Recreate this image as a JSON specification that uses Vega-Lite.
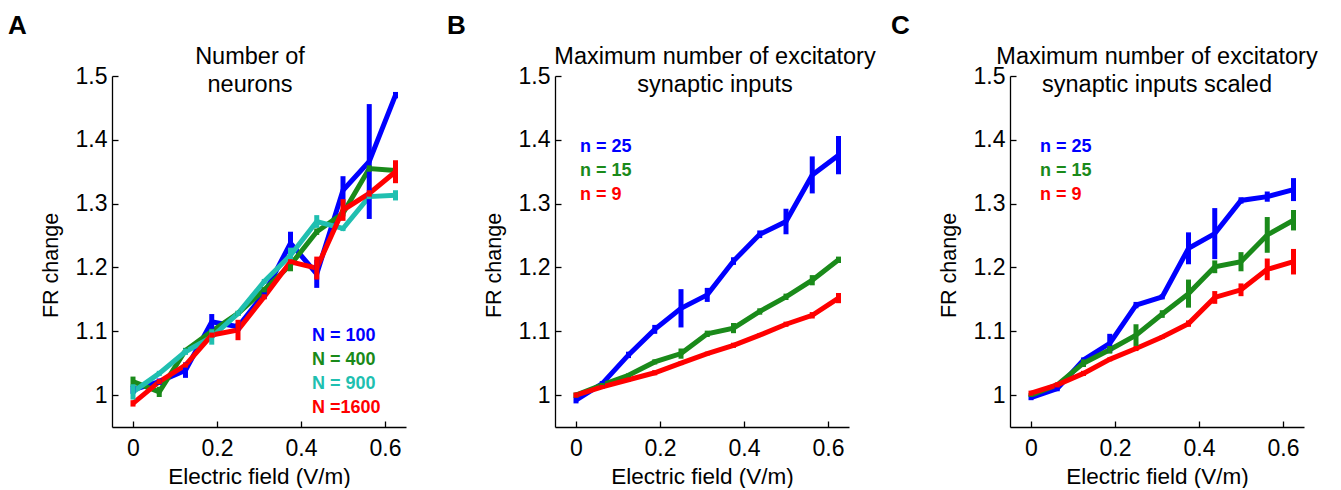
{
  "$schema": "https://vega.github.io/schema/vega-lite/v6.json",
  "background": "white",
  "padding": {"left": 8, "top": 12, "right": 5, "bottom": 0},
  "datasets": {
    "A": [
      {"x": 0, "y": 1.008, "err": 0.006, "s": "N = 100"},
      {"x": 0.0625, "y": 1.021, "err": 0.005, "s": "N = 100"},
      {"x": 0.125, "y": 1.039, "err": 0.012, "s": "N = 100"},
      {"x": 0.1875, "y": 1.115, "err": 0.012, "s": "N = 100"},
      {"x": 0.25, "y": 1.107, "err": 0.006, "s": "N = 100"},
      {"x": 0.3125, "y": 1.159, "err": 0.008, "s": "N = 100"},
      {"x": 0.375, "y": 1.238, "err": 0.018, "s": "N = 100"},
      {"x": 0.4375, "y": 1.19, "err": 0.022, "s": "N = 100"},
      {"x": 0.5, "y": 1.321, "err": 0.022, "s": "N = 100"},
      {"x": 0.5625, "y": 1.366, "err": 0.09, "s": "N = 100"},
      {"x": 0.625, "y": 1.47, "err": 0.005, "s": "N = 100"},
      {"x": 0, "y": 1.021, "err": 0.008, "s": "N = 400"},
      {"x": 0.0625, "y": 1.005, "err": 0.008, "s": "N = 400"},
      {"x": 0.125, "y": 1.07, "err": 0.004, "s": "N = 400"},
      {"x": 0.1875, "y": 1.1, "err": 0.004, "s": "N = 400"},
      {"x": 0.25, "y": 1.128, "err": 0.004, "s": "N = 400"},
      {"x": 0.3125, "y": 1.165, "err": 0.004, "s": "N = 400"},
      {"x": 0.375, "y": 1.204, "err": 0.01, "s": "N = 400"},
      {"x": 0.4375, "y": 1.256, "err": 0.005, "s": "N = 400"},
      {"x": 0.5, "y": 1.285, "err": 0.005, "s": "N = 400"},
      {"x": 0.5625, "y": 1.355, "err": 0.005, "s": "N = 400"},
      {"x": 0.625, "y": 1.352, "err": 0.005, "s": "N = 400"},
      {"x": 0, "y": 1.005, "err": 0.012, "s": "N = 900"},
      {"x": 0.0625, "y": 1.034, "err": 0.004, "s": "N = 900"},
      {"x": 0.125, "y": 1.068, "err": 0.005, "s": "N = 900"},
      {"x": 0.1875, "y": 1.091, "err": 0.012, "s": "N = 900"},
      {"x": 0.25, "y": 1.128, "err": 0.004, "s": "N = 900"},
      {"x": 0.3125, "y": 1.178, "err": 0.004, "s": "N = 900"},
      {"x": 0.375, "y": 1.219, "err": 0.012, "s": "N = 900"},
      {"x": 0.4375, "y": 1.272, "err": 0.01, "s": "N = 900"},
      {"x": 0.5, "y": 1.261, "err": 0.004, "s": "N = 900"},
      {"x": 0.5625, "y": 1.311, "err": 0.004, "s": "N = 900"},
      {"x": 0.625, "y": 1.313, "err": 0.008, "s": "N = 900"},
      {"x": 0, "y": 0.987, "err": 0.005, "s": "N =1600"},
      {"x": 0.0625, "y": 1.021, "err": 0.004, "s": "N =1600"},
      {"x": 0.125, "y": 1.047, "err": 0.004, "s": "N =1600"},
      {"x": 0.1875, "y": 1.094, "err": 0.004, "s": "N =1600"},
      {"x": 0.25, "y": 1.102, "err": 0.016, "s": "N =1600"},
      {"x": 0.3125, "y": 1.154, "err": 0.004, "s": "N =1600"},
      {"x": 0.375, "y": 1.209, "err": 0.004, "s": "N =1600"},
      {"x": 0.4375, "y": 1.199, "err": 0.018, "s": "N =1600"},
      {"x": 0.5, "y": 1.29, "err": 0.017, "s": "N =1600"},
      {"x": 0.5625, "y": 1.316, "err": 0.005, "s": "N =1600"},
      {"x": 0.625, "y": 1.35, "err": 0.018, "s": "N =1600"}
    ],
    "B": [
      {"x": 0, "y": 0.992, "err": 0.005, "s": "n = 25"},
      {"x": 0.0625, "y": 1.018, "err": 0.004, "s": "n = 25"},
      {"x": 0.125, "y": 1.063, "err": 0.005, "s": "n = 25"},
      {"x": 0.1875, "y": 1.103, "err": 0.007, "s": "n = 25"},
      {"x": 0.25, "y": 1.136, "err": 0.03, "s": "n = 25"},
      {"x": 0.3125, "y": 1.157, "err": 0.011, "s": "n = 25"},
      {"x": 0.375, "y": 1.21, "err": 0.006, "s": "n = 25"},
      {"x": 0.4375, "y": 1.252, "err": 0.006, "s": "n = 25"},
      {"x": 0.5, "y": 1.272, "err": 0.02, "s": "n = 25"},
      {"x": 0.5625, "y": 1.345, "err": 0.029, "s": "n = 25"},
      {"x": 0.625, "y": 1.376, "err": 0.03, "s": "n = 25"},
      {"x": 0, "y": 1.0, "err": 0.004, "s": "n = 15"},
      {"x": 0.0625, "y": 1.016, "err": 0.003, "s": "n = 15"},
      {"x": 0.125, "y": 1.031, "err": 0.003, "s": "n = 15"},
      {"x": 0.1875, "y": 1.052, "err": 0.004, "s": "n = 15"},
      {"x": 0.25, "y": 1.065, "err": 0.008, "s": "n = 15"},
      {"x": 0.3125, "y": 1.096, "err": 0.005, "s": "n = 15"},
      {"x": 0.375, "y": 1.105, "err": 0.008, "s": "n = 15"},
      {"x": 0.4375, "y": 1.131, "err": 0.005, "s": "n = 15"},
      {"x": 0.5, "y": 1.154, "err": 0.005, "s": "n = 15"},
      {"x": 0.5625, "y": 1.18, "err": 0.008, "s": "n = 15"},
      {"x": 0.625, "y": 1.212, "err": 0.005, "s": "n = 15"},
      {"x": 0, "y": 1.0, "err": 0.004, "s": "n = 9"},
      {"x": 0.0625, "y": 1.013, "err": 0.003, "s": "n = 9"},
      {"x": 0.125, "y": 1.024, "err": 0.003, "s": "n = 9"},
      {"x": 0.1875, "y": 1.035, "err": 0.004, "s": "n = 9"},
      {"x": 0.25, "y": 1.05, "err": 0.003, "s": "n = 9"},
      {"x": 0.3125, "y": 1.065, "err": 0.003, "s": "n = 9"},
      {"x": 0.375, "y": 1.078, "err": 0.004, "s": "n = 9"},
      {"x": 0.4375, "y": 1.094, "err": 0.003, "s": "n = 9"},
      {"x": 0.5, "y": 1.111, "err": 0.004, "s": "n = 9"},
      {"x": 0.5625, "y": 1.125, "err": 0.005, "s": "n = 9"},
      {"x": 0.625, "y": 1.152, "err": 0.008, "s": "n = 9"}
    ],
    "C": [
      {"x": 0, "y": 0.996, "err": 0.004, "s": "n = 25"},
      {"x": 0.0625, "y": 1.01, "err": 0.004, "s": "n = 25"},
      {"x": 0.125, "y": 1.055, "err": 0.004, "s": "n = 25"},
      {"x": 0.1875, "y": 1.081, "err": 0.015, "s": "n = 25"},
      {"x": 0.25, "y": 1.141, "err": 0.005, "s": "n = 25"},
      {"x": 0.3125, "y": 1.154, "err": 0.004, "s": "n = 25"},
      {"x": 0.375, "y": 1.23, "err": 0.025, "s": "n = 25"},
      {"x": 0.4375, "y": 1.253, "err": 0.04, "s": "n = 25"},
      {"x": 0.5, "y": 1.305, "err": 0.005, "s": "n = 25"},
      {"x": 0.5625, "y": 1.311, "err": 0.008, "s": "n = 25"},
      {"x": 0.625, "y": 1.322, "err": 0.018, "s": "n = 25"},
      {"x": 0, "y": 1.0, "err": 0.003, "s": "n = 15"},
      {"x": 0.0625, "y": 1.016, "err": 0.003, "s": "n = 15"},
      {"x": 0.125, "y": 1.05, "err": 0.006, "s": "n = 15"},
      {"x": 0.1875, "y": 1.071, "err": 0.006, "s": "n = 15"},
      {"x": 0.25, "y": 1.094, "err": 0.017, "s": "n = 15"},
      {"x": 0.3125, "y": 1.127, "err": 0.006, "s": "n = 15"},
      {"x": 0.375, "y": 1.159, "err": 0.022, "s": "n = 15"},
      {"x": 0.4375, "y": 1.201, "err": 0.01, "s": "n = 15"},
      {"x": 0.5, "y": 1.209, "err": 0.015, "s": "n = 15"},
      {"x": 0.5625, "y": 1.251, "err": 0.028, "s": "n = 15"},
      {"x": 0.625, "y": 1.274, "err": 0.016, "s": "n = 15"},
      {"x": 0, "y": 1.003, "err": 0.004, "s": "n = 9"},
      {"x": 0.0625, "y": 1.016, "err": 0.004, "s": "n = 9"},
      {"x": 0.125, "y": 1.034, "err": 0.004, "s": "n = 9"},
      {"x": 0.1875, "y": 1.056, "err": 0.003, "s": "n = 9"},
      {"x": 0.25, "y": 1.073, "err": 0.004, "s": "n = 9"},
      {"x": 0.3125, "y": 1.091, "err": 0.003, "s": "n = 9"},
      {"x": 0.375, "y": 1.112, "err": 0.005, "s": "n = 9"},
      {"x": 0.4375, "y": 1.153, "err": 0.01, "s": "n = 9"},
      {"x": 0.5, "y": 1.165, "err": 0.01, "s": "n = 9"},
      {"x": 0.5625, "y": 1.197, "err": 0.017, "s": "n = 9"},
      {"x": 0.625, "y": 1.209, "err": 0.02, "s": "n = 9"}
    ]
  },
  "config": {
    "font": "Liberation Sans",
    "view": {"stroke": null},
    "axis": {
      "grid": false,
      "domainColor": "black",
      "domainWidth": 1.3,
      "tickColor": "black",
      "tickWidth": 1.3,
      "tickSize": -6,
      "labelColor": "black",
      "titleColor": "black",
      "labelFont": "Liberation Sans",
      "titleFont": "Liberation Sans",
      "labelFontSize": 23,
      "titleFontWeight": "normal",
      "labelFlush": false,
      "labelOverlap": false
    },
    "axisX": {"labelPadding": 16, "titlePadding": 5, "titleFontSize": 22.5},
    "axisY": {"labelPadding": 11, "titlePadding": 13, "titleFontSize": 21.5, "titleY": 189},
    "legend": {"labelFont": "Liberation Sans", "labelFontSize": 18, "labelFontWeight": "bold", "labelOffset": 0, "symbolSize": 0, "symbolOpacity": 0, "symbolStrokeWidth": 0, "rowPadding": 6, "title": null},
    "title": {"font": "Liberation Sans", "fontWeight": "normal", "color": "black"}
  },
  "spacing": 41,
  "resolve": {"scale": {"color": "independent"}, "legend": {"color": "independent"}},
  "hconcat": [
    {
      "title": {"text": "A", "anchor": "start", "frame": "bounds", "fontSize": 26, "fontWeight": "bold", "dx": -32, "offset": 6},
      "hconcat": [
        {
          "width": 294, "height": 351,
          "title": {"text": ["Number of", "neurons"], "fontSize": 23.5, "lineHeight": 28, "offset": -31, "dx": -9},
          "data": {"name": "A"},
          "encoding": {
            "x": {"field": "x", "type": "quantitative", "scale": {"domain": [-0.05, 0.65], "nice": false, "zero": false}, "axis": {"values": [0, 0.2, 0.4, 0.6], "format": "~g", "title": "Electric field (V/m)"}},
            "y": {"field": "y", "type": "quantitative", "scale": {"domain": [0.95, 1.5], "nice": false, "zero": false}, "axis": {"values": [1, 1.1, 1.2, 1.3, 1.4, 1.5], "format": ".2~f", "title": "FR change"}},
            "color": {"field": "s", "type": "nominal", "scale": {"domain": ["N = 100", "N = 400", "N = 900", "N =1600"], "range": ["#0000ff", "#1a8a1a", "#20bfb0", "#ff0000"]},
              "legend": {"orient": "none", "legendX": 182, "legendY": 251, "encode": {"labels": {"update": {"fill": {"signal": "datum.value === 'N = 100' ? '#0000ff' : datum.value === 'N = 400' ? '#1a8a1a' : datum.value === 'N = 900' ? '#20bfb0' : '#ff0000'"}}}}}}
          },
          "layer": [
            {"mark": {"type": "line", "strokeWidth": 5}},
            {"mark": {"type": "errorbar", "thickness": 5}, "encoding": {"yError": {"field": "err"}}}
          ]
        }
      ]
    },
    {
      "spacing": 15,
      "resolve": {"scale": {"color": "independent"}, "legend": {"color": "independent"}},
      "hconcat": [
        {
          "title": {"text": "B", "anchor": "start", "frame": "bounds", "fontSize": 26, "fontWeight": "bold", "dx": -36, "offset": 6},
          "hconcat": [
            {
              "width": 294, "height": 351,
              "title": {"text": ["Maximum number of excitatory", "synaptic inputs"], "fontSize": 23.5, "lineHeight": 28, "offset": -31, "dx": 13},
              "data": {"name": "B"},
              "encoding": {
                "x": {"field": "x", "type": "quantitative", "scale": {"domain": [-0.05, 0.65], "nice": false, "zero": false}, "axis": {"values": [0, 0.2, 0.4, 0.6], "format": "~g", "title": "Electric field (V/m)"}},
                "y": {"field": "y", "type": "quantitative", "scale": {"domain": [0.95, 1.5], "nice": false, "zero": false}, "axis": {"values": [1, 1.1, 1.2, 1.3, 1.4, 1.5], "format": ".2~f", "title": "FR change"}},
                "color": {"field": "s", "type": "nominal", "scale": {"domain": ["n = 25", "n = 15", "n = 9"], "range": ["#0000ff", "#1a8a1a", "#ff0000"]},
                  "legend": {"orient": "none", "legendX": 7, "legendY": 62, "encode": {"labels": {"update": {"fill": {"signal": "datum.value === 'n = 25' ? '#0000ff' : datum.value === 'n = 15' ? '#1a8a1a' : '#ff0000'"}}}}}}
              },
              "layer": [
                {"mark": {"type": "line", "strokeWidth": 5}},
                {"mark": {"type": "errorbar", "thickness": 5}, "encoding": {"yError": {"field": "err"}}}
              ]
            }
          ]
        },
        {
          "title": {"text": "C", "anchor": "start", "frame": "bounds", "fontSize": 26, "fontWeight": "bold", "dx": -47, "offset": 6},
          "hconcat": [
            {
              "width": 294, "height": 351,
              "title": {"text": ["Maximum number of excitatory", "synaptic inputs scaled"], "fontSize": 23.5, "lineHeight": 28, "offset": -31},
              "data": {"name": "C"},
              "encoding": {
                "x": {"field": "x", "type": "quantitative", "scale": {"domain": [-0.05, 0.65], "nice": false, "zero": false}, "axis": {"values": [0, 0.2, 0.4, 0.6], "format": "~g", "title": "Electric field (V/m)"}},
                "y": {"field": "y", "type": "quantitative", "scale": {"domain": [0.95, 1.5], "nice": false, "zero": false}, "axis": {"values": [1, 1.1, 1.2, 1.3, 1.4, 1.5], "format": ".2~f", "title": "FR change"}},
                "color": {"field": "s", "type": "nominal", "scale": {"domain": ["n = 25", "n = 15", "n = 9"], "range": ["#0000ff", "#1a8a1a", "#ff0000"]},
                  "legend": {"orient": "none", "legendX": 12, "legendY": 62, "encode": {"labels": {"update": {"fill": {"signal": "datum.value === 'n = 25' ? '#0000ff' : datum.value === 'n = 15' ? '#1a8a1a' : '#ff0000'"}}}}}}
              },
              "layer": [
                {"mark": {"type": "line", "strokeWidth": 5}},
                {"mark": {"type": "errorbar", "thickness": 5}, "encoding": {"yError": {"field": "err"}}}
              ]
            }
          ]
        }
      ]
    }
  ]
}
